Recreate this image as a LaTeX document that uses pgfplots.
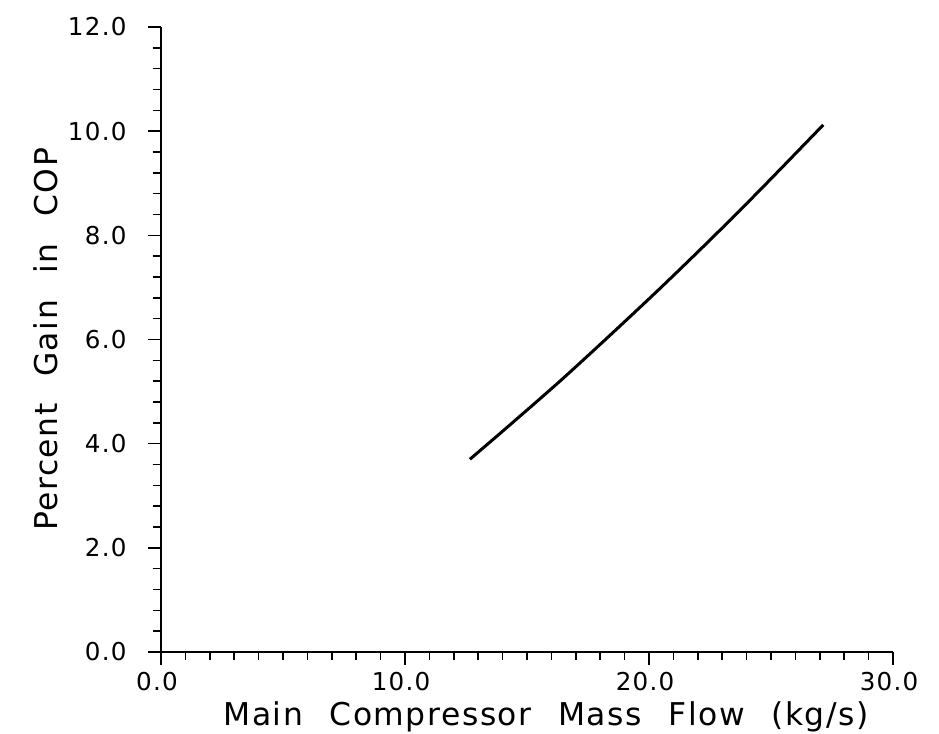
\documentclass[border=0pt]{standalone}
\usepackage{fontspec}
\setmainfont{DejaVu Sans}[LetterSpace=5,WordSpace=2.3]
\usepackage{pgfplots}
\pgfplotsset{compat=1.18}

\begin{document}
\begin{tikzpicture}
\useasboundingbox (-161bp,-82bp) rectangle (778bp,652bp);
\begin{axis}[
  scale only axis, width=732bp, height=625bp,
  xmin=0, xmax=30, ymin=0, ymax=12,
  axis lines=left, axis line style={-, line width=1.8bp},
  xtick={0,10,20,30}, minor x tick num=9,
  ytick={0,2,...,12}, minor y tick num=4,
  tick align=outside, major tick length=13bp, minor tick length=8bp,
  tick style={black, line width=1.5bp},
  /pgf/number format/.cd, fixed, fixed zerofill, precision=1, assume math mode=true,
  /pgfplots/.cd,
  ticklabel style={font=\fontsize{24.7}{25}\selectfont},
  xticklabel style={xshift=-4bp, yshift=-4bp},
  yticklabel style={xshift=-18bp},
  label style={font=\fontsize{31.5}{32}\selectfont},
  xlabel style={at={(axis description cs:0.526,-0.1168)}, anchor=base},
  ylabel style={at={(axis description cs:-0.142,0.5)}, anchor=base},
  xlabel={Main Compressor Mass Flow (kg/s)},
  ylabel={Percent Gain in COP},
]
\addplot[black, line width=3bp, smooth, tension=0.5] coordinates {
  (12.66,3.70) (14.30,4.36) (16.35,5.20) (18.40,6.08) (20.45,6.98)
  (22.50,7.91) (24.55,8.87) (27.14,10.12)
};
\end{axis}
\end{tikzpicture}
\end{document}
